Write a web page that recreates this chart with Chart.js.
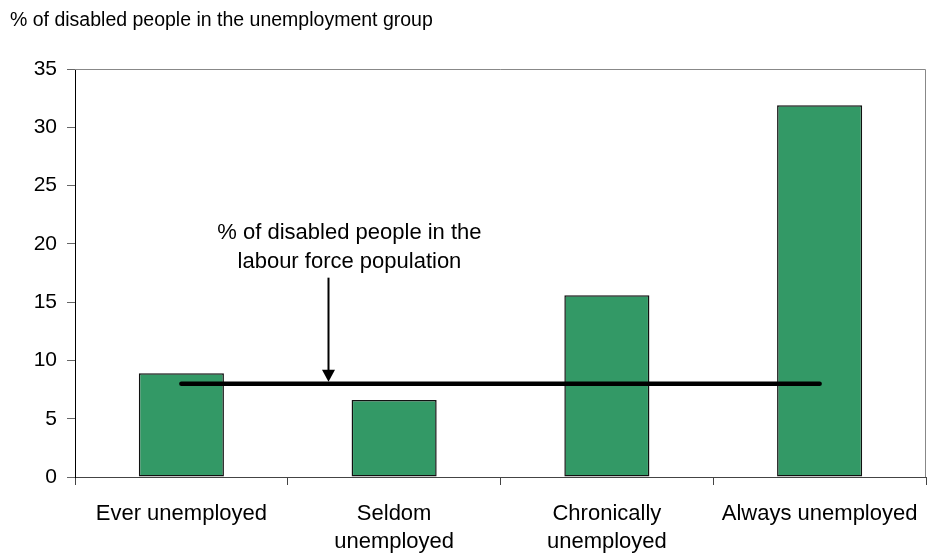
<!DOCTYPE html>
<html>
<head>
<meta charset="utf-8">
<script src="https://cdn.jsdelivr.net/npm/chart.js@4.4.0/dist/chart.umd.min.js"></script>
<style>
  html, body { margin: 0; padding: 0; background: #fff; }
  #wrap { width: 927px; height: 556px; position: relative; }
</style>
</head>
<body>
<div id="wrap"><canvas id="chart"></canvas></div>
<script>
// data
const categories = [
    'Ever unemployed',
    ['Seldom', 'unemployed'],
    ['Chronically', 'unemployed'],
    'Always unemployed'
];
const disabledShare = [8.9, 6.6, 15.6, 31.9];      // % disabled in each unemployment group
const labourForceShare = [8.0, 8.0, 8.0, 8.0];     // % disabled in labour force (reference line)
const yTicks = [0, 5, 10, 15, 20, 25, 30, 35];

const chartTitle = '% of disabled people in the unemployment group';
const noteLines = ['% of disabled people in the', 'labour force population'];

const FONT = "'Liberation Sans', Arial, sans-serif";

// title, plot frame and the arrow note
const decor = {
    id: 'decor',
    beforeDraw(chart) {
        const ctx = chart.ctx;
        ctx.save();
        ctx.fillStyle = '#fff';
        ctx.fillRect(0, 0, chart.width, chart.height);
        ctx.restore();
    },
    afterDatasetsDraw(chart) {
        const ctx = chart.ctx;
        const a = chart.chartArea;
        const x = chart.scales.x;
        const y = chart.scales.y;

        ctx.save();
        // top + right frame
        ctx.strokeStyle = '#888';
        ctx.lineWidth = 1;
        ctx.beginPath();
        ctx.moveTo(a.left, a.top + 0.5);
        ctx.lineTo(a.right - 0.5, a.top + 0.5);
        ctx.lineTo(a.right - 0.5, a.bottom);
        ctx.stroke();

        // title
        ctx.fillStyle = '#000';
        ctx.font = '19.5px ' + FONT;
        ctx.textAlign = 'left';
        ctx.textBaseline = 'middle';
        ctx.fillText(chartTitle, 10, 21);

        // arrow pointing at the reference line
        const ax = Math.round(x.getPixelForValue(0.69)) + 0.5;
        const yTop = y.getPixelForValue(17.1);
        const yEnd = y.getPixelForValue(labourForceShare[0]) - 2;
        ctx.strokeStyle = '#000';
        ctx.lineWidth = 2;
        ctx.beginPath();
        ctx.moveTo(ax, yTop);
        ctx.lineTo(ax, yEnd - 10);
        ctx.stroke();
        ctx.beginPath();
        ctx.moveTo(ax - 6.5, yEnd - 12);
        ctx.lineTo(ax + 6.5, yEnd - 12);
        ctx.lineTo(ax, yEnd);
        ctx.closePath();
        ctx.fill();

        // note text
        const tx = x.getPixelForValue(0.79);
        ctx.font = '22px ' + FONT;
        ctx.textAlign = 'center';
        ctx.fillText(noteLines[0], tx, y.getPixelForValue(20.95));
        ctx.fillText(noteLines[1], tx, y.getPixelForValue(18.45));
        ctx.restore();
    }
};

new Chart(document.getElementById('chart'), {
    data: {
        labels: categories,
        datasets: [
            {
                type: 'line',
                label: 'Labour force',
                data: labourForceShare,
                borderColor: '#000',
                borderWidth: 4.5,
                borderCapStyle: 'round',
                pointRadius: 0,
                fill: false,
                order: 0
            },
            {
                type: 'bar',
                label: 'Unemployment group',
                data: disabledShare,
                backgroundColor: '#339966',
                borderColor: '#111',
                borderWidth: 1.5,
                borderSkipped: false,
                categoryPercentage: 1,
                barPercentage: 0.4,
                order: 1
            }
        ]
    },
    options: {
        responsive: true,
        maintainAspectRatio: false,
        animation: false,
        layout: { padding: { top: 69, right: 1, left: 0, bottom: 0 } },
        plugins: {
            legend: { display: false },
            tooltip: { enabled: false }
        },
        scales: {
            x: {
                offset: true,
                grid: {
                    offset: true,
                    drawOnChartArea: false,
                    drawTicks: true,
                    tickLength: 8,
                    color: '#444'
                },
                border: { color: '#444', width: 1 },
                ticks: {
                    color: '#000',
                    padding: 15,
                    maxRotation: 0,
                    autoSkip: false,
                    font: { family: FONT, size: 22, lineHeight: 1.27 }
                },
                afterFit(scale) {
                    scale.height = 79;
                    // labels may overhang the plot edges, like the original
                    scale.paddingLeft = 0;
                    scale.paddingRight = 0;
                }
            },
            y: {
                min: 0,
                max: 35,
                afterBuildTicks(scale) { scale.ticks = yTicks.map(v => ({ value: v })); },
                grid: {
                    drawOnChartArea: false,
                    drawTicks: true,
                    tickLength: 8,
                    color: '#666'
                },
                border: { color: '#000', width: 1 },
                ticks: {
                    color: '#000',
                    padding: 10,
                    font: { family: FONT, size: 21 }
                },
                afterFit(scale) {
                    scale.width = 75;
                    scale.paddingTop = 0;
                    scale.paddingBottom = 0;
                }
            }
        }
    },
    plugins: [decor]
});
</script>
</body>
</html>
